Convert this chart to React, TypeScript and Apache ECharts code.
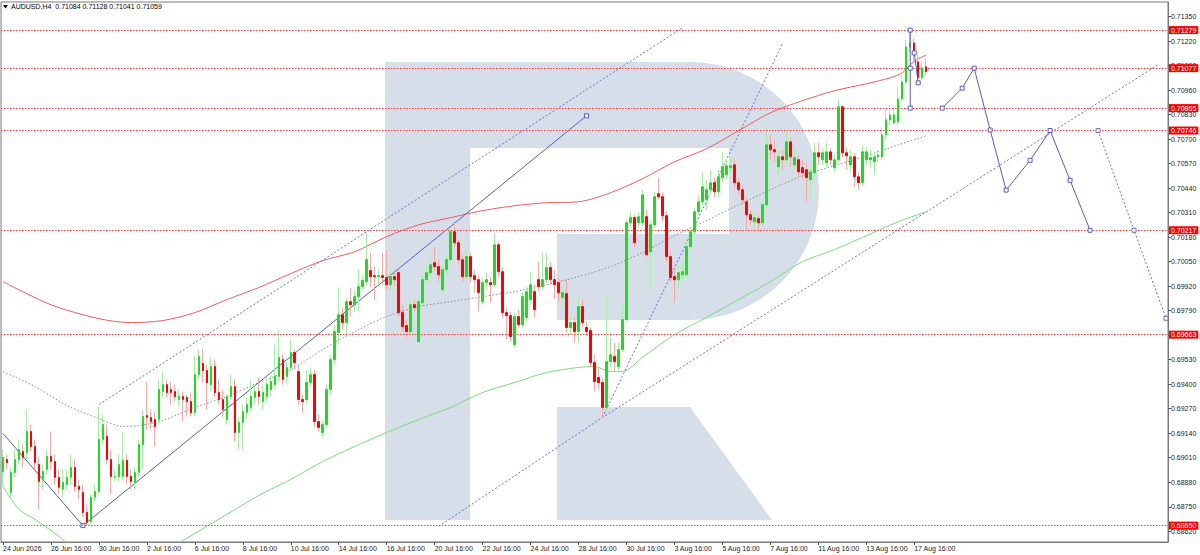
import React, { useEffect, useRef } from 'react';
import * as echarts from 'echarts';

// ---------- DATA ----------
const SYMBOL = 'AUDUSD,H4';
const LAST_OHLC = [0.71084, 0.71128, 0.71041, 0.71059];

// H4 candles, [open, high, low, close] in points (price x 1e5)
const candles: number[][] = [
  [68937,69054,68858,69012],[69001,69027,68948,68985],[68826,68959,68805,68932],[68932,69054,68906,69001],
  [69001,69107,68974,69054],[69043,69080,68959,69012],[69038,69266,69001,69149],[69149,69186,69043,69070],
  [69070,69107,68948,68985],[68974,69012,68736,68884],[68895,68974,68842,68937],[68948,69054,68921,69017],
  [69017,69149,68948,68990],[68990,69027,68868,68906],[68906,68948,68815,68853],[68842,68948,68800,68879],
  [68868,68948,68842,68906],[68906,69027,68868,68959],[68959,69001,68831,68858],[68858,68895,68789,68842],
  [68826,68868,68694,68720],[68720,68763,68650,68667],[68672,68815,68651,68800],[68800,68868,68778,68831],
  [68831,69282,68815,69107],[69107,69239,69080,69186],[69123,69186,68974,69001],[69001,69054,68815,68911],
  [68906,68948,68884,68911],[68911,69027,68884,68974],[68911,69144,68895,68996],[68996,69027,68868,68911],
  [68911,68948,68842,68884],[68879,68959,68842,68932],[68932,69107,68906,69080],[69080,69266,68948,69229],
  [69234,69414,69160,69224],[69224,69266,69160,69202],[69213,69255,69070,69176],[69213,69425,69186,69372],
  [69361,69467,69330,69398],[69398,69425,69330,69356],[69372,69414,69292,69356],[69361,69398,69308,69335],
  [69319,69372,69282,69335],[69335,69361,69202,69319],[69330,69345,69229,69308],[69308,69356,69229,69250],
  [69250,69552,69229,69451],[69451,69584,69425,69547],[69510,69589,69409,69473],[69473,69504,69266,69409],
  [69398,69542,69361,69494],[69494,69531,69330,69356],[69356,69425,69292,69319],[69319,69372,69224,69266],
  [69213,69345,69186,69335],[69335,69451,69319,69388],[69388,69425,69096,69144],[69144,69224,69054,69197],
  [69197,69292,69054,69255],[69250,69330,69213,69292],[69277,69425,69255,69335],[69330,69398,69292,69361],
  [69361,69436,69292,69335],[69308,69398,69266,69356],[69335,69436,69308,69398],[69372,69451,69335,69414],
  [69398,69610,69372,69441],[69441,69690,69409,69542],[69531,69557,69398,69425],[69441,69520,69398,69489],
  [69489,69637,69467,69568],[69568,69584,69478,69515],[69467,69504,69292,69319],[69319,69345,69250,69308],
  [69319,69478,69292,69409],[69409,69489,69388,69451],[69451,69478,69171,69202],[69202,69239,69149,69171],
  [69144,69213,69123,69186],[69186,69398,69171,69372],[69372,69557,69345,69531],[69531,69716,69504,69679],
  [69674,69913,69610,69769],[69769,69807,69690,69727],[69727,69860,69663,69838],[69838,69913,69759,69822],
  [69822,69902,69785,69865],[69865,70008,69785,69918],[69918,69981,69902,69950],[69944,70204,69928,70061],
  [70003,70098,69918,69971],[69976,70024,69847,69971],[69971,70019,69928,69976],[69976,70098,69928,69966],
  [69966,70112,69902,69928],[69928,70008,69902,69971],[69971,69992,69918,69955],[69992,70008,69759,69780],
  [69780,69822,69674,69706],[69711,69743,69648,69679],[69679,69847,69663,69822],[69822,69847,69780,69807],
  [69626,69860,69621,69838],[69833,69981,69822,69955],[69955,70034,69939,69992],[69992,70061,69971,70034],
  [70045,70130,69997,70024],[70024,70061,69944,69981],[69902,70034,69876,70008],[70008,70087,69981,70061],
  [70061,70230,70045,70209],[70209,70257,70130,70151],[70151,70167,70034,70061],[70061,70087,69944,69971],
  [69971,70112,69955,70077],[70077,70098,69939,69971],[69976,70008,69886,69955],[69955,69981,69785,69886],
  [69838,69966,69822,69939],[69939,69992,69902,69955],[69939,69971,69833,69928],[69928,70204,69913,70140],
  [70140,70156,69966,69997],[69997,70019,69754,69780],[69780,69807,69637,69764],[69764,69785,69626,69653],
  [69610,69780,69595,69759],[69759,69796,69701,69716],[69716,69886,69701,69865],[69754,69918,69733,69891],
  [69849,69997,69822,69928],[69891,69928,69754,69796],[69955,70050,69891,69918],[69918,70098,69902,69955],
  [69955,70098,69939,70019],[70019,70050,69928,69955],[69955,70008,69849,69928],[69939,69966,69838,69886],
  [69860,69928,69807,69886],[69881,69955,69674,69701],[69701,69754,69663,69727],[69727,69754,69621,69679],
  [69679,69860,69621,69812],[69812,69849,69701,69727],[69701,69733,69658,69679],[69685,69701,69489,69515],
  [69515,69557,69361,69414],[69436,69489,69372,69409],[69409,69436,69224,69277],[69277,69870,69255,69520],
  [69520,69648,69489,69557],[69547,69621,69467,69520],[69494,69621,69467,69584],[69584,69833,69573,69743],
  [69743,70273,69733,70257],[70257,70315,70230,70284],[70284,70299,70125,70151],[70257,70315,70230,70289],
  [70257,70432,70241,70405],[70289,70326,70077,70087],[70103,70273,69902,70246],[70246,70421,70230,70395],
  [70411,70496,70379,70395],[70395,70421,70262,70294],[70294,70315,70050,70077],[70077,70103,69944,69966],
  [69971,70008,69833,69955],[69955,70034,69902,69992],[69981,70050,69955,69997],[69981,70156,69966,70130],
  [70130,70230,70114,70209],[70209,70336,70193,70315],[70315,70405,70299,70368],[70368,70522,70352,70448],
  [70379,70485,70326,70432],[70432,70538,70405,70469],[70469,70496,70390,70421],[70421,70538,70390,70501],
  [70496,70633,70475,70554],[70511,70591,70485,70559],[70549,70602,70527,70559],[70564,70602,70443,70469],
  [70469,70496,70405,70432],[70432,70458,70352,70379],[70368,70390,70220,70299],[70299,70326,70246,70273],
  [70262,70315,70230,70284],[70279,70299,70209,70257],[70257,70379,70241,70352],[70352,70766,70336,70670],
  [70670,70723,70591,70644],[70644,70697,70580,70633],[70554,70644,70511,70607],[70607,70644,70538,70591],
  [70591,70750,70564,70686],[70686,70708,70554,70607],[70564,70644,70538,70602],[70591,70617,70496,70527],
  [70549,70591,70485,70522],[70538,70575,70368,70496],[70485,70564,70395,70527],[70522,70681,70501,70628],
  [70628,70681,70564,70607],[70591,70654,70564,70628],[70575,70681,70549,70633],[70633,70654,70564,70591],
  [70549,70617,70527,70591],[70591,70909,70575,70872],[70872,70882,70602,70628],[70628,70654,70538,70612],
  [70564,70644,70527,70607],[70607,70628,70448,70501],[70501,70527,70432,70469],[70469,70670,70453,70633],
  [70591,70660,70564,70633],[70591,70644,70549,70602],[70580,70633,70511,70607],[70607,70644,70580,70617],
  [70607,70761,70591,70723],[70723,70856,70697,70803],[70803,70882,70776,70829],[70787,70866,70776,70829],
  [70792,70978,70776,70914],[70914,71041,70899,71004],[71004,71226,70988,71190],[71190,71279,71163,71211],
  [71211,71237,71110,71158],[71110,71147,70988,71026],[71026,71110,71014,71079],[71084,71128,71041,71059],
];

const FUTURE_BARS = 60;
const X_TICK_STEP = 12;
const xTickLabels = [
  '24 Jun 2026', '26 Jun 16:00', '30 Jun 16:00', '2 Jul 16:00', '6 Jul 16:00', '8 Jul 16:00',
  '10 Jul 16:00', '14 Jul 16:00', '16 Jul 16:00', '20 Jul 16:00', '22 Jul 16:00', '24 Jul 16:00',
  '28 Jul 16:00', '30 Jul 16:00', '3 Aug 16:00', '5 Aug 16:00', '7 Aug 16:00', '11 Aug 16:00',
  '13 Aug 16:00', '17 Aug 16:00',
];
const yTicks = [
  0.6862, 0.6875, 0.6888, 0.6901, 0.6914, 0.6927, 0.694, 0.6953, 0.6966, 0.6979, 0.6992,
  0.7005, 0.7018, 0.7031, 0.7044, 0.7057, 0.707, 0.7083, 0.7096, 0.7109, 0.7122, 0.7135,
];
const levels = [0.71279, 0.71077, 0.70865, 0.70746, 0.70217, 0.69663, 0.6865];

// moving averages, [bar, points]
const maRed = [[0,69944],[12,69822],[24,69748],[32,69727],[40,69738],[48,69780],[56,69849],[64,69913],[72,69987],[80,70056],[88,70103],[96,70183],[104,70246],[112,70284],[120,70321],[128,70347],[136,70363],[144,70368],[152,70416],[160,70490],[168,70580],[176,70649],[184,70745],[192,70840],[200,70904],[208,70957],[216,70994],[222,71026],[225,71052],[227,71095],[229,71126],[231,71147]];
const maGrey = [[0,69467],[8,69388],[16,69287],[24,69218],[30,69176],[34,69181],[40,69208],[48,69277],[56,69335],[64,69409],[72,69478],[80,69584],[88,69679],[96,69759],[104,69812],[112,69838],[120,69865],[128,69891],[136,69928],[144,69971],[152,70024],[160,70098],[168,70188],[176,70268],[184,70352],[192,70432],[200,70506],[208,70559],[216,70612],[224,70670],[231,70718]];
const maGreen = [[0,68858],[4,68736],[8,68683],[14,68593],[24,68418],[32,68392],[40,68508],[48,68608],[56,68709],[64,68810],[72,68895],[80,68990],[88,69070],[96,69144],[104,69213],[112,69277],[120,69356],[128,69409],[136,69462],[144,69489],[148,69494],[152,69467],[155,69467],[160,69542],[168,69663],[176,69754],[184,69849],[192,69944],[200,70050],[208,70114],[216,70188],[224,70262],[231,70315]];

// drawn analysis lines, [bar, points]
const channelDown = [[0,69139],[20,68650]];
const channelUp = [[20,68650],[146,70824]];
const upperDotted = [[24,69292],[170,71291]];
const lowerDotted = [[109,68646],[150,69224],[289,71095]];
const steepDotted = [[150,69224],[195,71206]];
const forecast = [[235,70865],[240,70971],[243,71077],[247,70749],[251,70430],[257,70588],[262,70746],[267,70482],[272,70217]];
const forecastDotted = [[274,70746],[283,70217],[291,69750]];
const peakMarks = [[227,71279],[227,71077],[227,70865]];
const peakSmall = [[228,71158],[229,70999]];

// ---------- CHART ----------
const FONT = 'Liberation Sans, Arial, sans-serif';
const P = (v: number) => v / 1e5;
const BLUE = '#5a5ac6';
const BLUE_DOT = '#6d6dd0';

function lineSeries(data: number[][], color: string, dash: number[] | null, marks: boolean, smooth: number | boolean = false, z = 3) {
  return {
    type: 'line',
    data: data.map(([b, v]) => [b, P(v)]),
    showSymbol: marks,
    showAllSymbol: true,
    symbol: 'rect',
    symbolSize: 4,
    itemStyle: { color: '#ffffff', borderColor: color, borderWidth: 1 },
    lineStyle: { color, width: 1, type: dash ? dash : 'solid' },
    smooth,
    silent: true,
    z,
    animation: false,
  };
}

function levelSeries(values: number[], bg: string, lineColor: string | null, z: number) {
  return {
    type: 'line',
    data: [],
    silent: true,
    z,
    animation: false,
    markLine: {
      silent: true,
      symbol: ['none', 'none'],
      precision: 5,
      animation: false,
      lineStyle: lineColor ? { color: lineColor, width: 1, type: [1.5, 1.5] } : { opacity: 0, width: 0 },
      label: {
        position: 'end', distance: 1,
        formatter: (p: any) => Number(p.value).toFixed(5),
        backgroundColor: bg, color: '#ffffff', fontSize: 7, padding: [1, 2, 0, 2], fontFamily: FONT,
      },
      emphasis: { disabled: true },
      data: values.map((v) => ({ yAxis: v })),
    },
  };
}

export default function App() {
  const ref = useRef<HTMLDivElement>(null);
  useEffect(() => {
    const el = ref.current;
    if (!el) return;
    const chart = echarts.init(el, undefined, { renderer: 'svg' });
    const totalBars = candles.length + FUTURE_BARS;
    const categories = Array.from({ length: totalBars }, (_, i) => String(i));
    const lastLabelBar = (xTickLabels.length - 1) * X_TICK_STEP;
    const showTick = (i: number) => i % X_TICK_STEP === 0 && i <= lastLabelBar;

    const wickData = candles.map(([o, h, l, c]) => [P(o), P(c), P(l), P(h)]);
    const bodyData = candles.map(([o, , , c]) => [P(o), P(c), P(Math.min(o, c)), P(Math.max(o, c))]);

    const LOGO = '#d6dee9';
    const option: any = {
      animation: false,
      backgroundColor: '#ffffff',
      textStyle: { fontFamily: FONT },
      grid: { left: 0, right: 32, top: 2, bottom: 13, show: true, borderColor: '#7a7a7a', borderWidth: 1, backgroundColor: 'transparent' },
      xAxis: {
        type: 'category',
        data: categories,
        boundaryGap: true,
        axisLine: { show: true, lineStyle: { color: '#7a7a7a' } },
        axisTick: { show: true, alignWithLabel: true, interval: (i: number) => showTick(i), length: 3, lineStyle: { color: '#555' } },
        axisLabel: {
          interval: (i: number) => showTick(i),
          formatter: (_v: string, i: number) => (showTick(i) ? xTickLabels[i / X_TICK_STEP] : ''),
          align: 'left', fontSize: 7, color: '#222', margin: 3, fontFamily: FONT,
        },
        splitLine: { show: false },
      },
      yAxis: {
        type: 'value',
        position: 'right',
        min: 0.68563,
        max: 0.71428,
        axisLine: { show: true, lineStyle: { color: '#7a7a7a' } },
        axisTick: { show: true, customValues: yTicks, length: 3, lineStyle: { color: '#555' } },
        axisLabel: { customValues: yTicks, formatter: (v: number) => v.toFixed(5), fontSize: 7, color: '#222', margin: 3, fontFamily: FONT },
        splitLine: { show: false },
      },
      graphic: [
        { type: 'rect', silent: true, z: 1, shape: { x: 385, y: 62, width: 85, height: 458 }, style: { fill: LOGO } },
        { type: 'rect', silent: true, z: 1, shape: { x: 385, y: 62, width: 306, height: 86 }, style: { fill: LOGO } },
        { type: 'sector', silent: true, z: 1, shape: { cx: 690, cy: 191, r: 129, r0: 0, startAngle: -Math.PI / 2, endAngle: Math.PI / 2, clockwise: true }, style: { fill: LOGO } },
        { type: 'rect', silent: true, z: 1, shape: { x: 557, y: 234, width: 134, height: 86 }, style: { fill: LOGO } },
        { type: 'rect', silent: true, z: 1, shape: { x: 689, y: 148, width: 40, height: 86 }, style: { fill: '#ffffff' } },
        { type: 'polygon', silent: true, z: 1, shape: { points: [[557, 407], [690, 407], [772, 520], [557, 520]] }, style: { fill: LOGO } },
        { type: 'polygon', silent: true, z: 10, shape: { points: [[3, 5], [8, 5], [5.5, 8.5]] }, style: { fill: '#000' } },
        {
          type: 'text', silent: true, z: 10, x: 11, y: 3,
          style: { text: `${SYMBOL}  ${LAST_OHLC.map((v) => v.toFixed(5)).join(' ')}`, fontSize: 7, fill: '#000', fontFamily: FONT },
        },
      ],
      series: [
        levelSeries([LAST_OHLC[3]], '#000000', null, 2),
        levelSeries(levels, '#ff0000', '#ff3b3b', 3),
        {
          type: 'candlestick',
          data: wickData,
          barWidth: 1,
          itemStyle: { color: '#a6eea6', color0: '#f6a9a9', borderColor: '#a6eea6', borderColor0: '#f6a9a9', borderWidth: 1 },
          silent: true,
          z: 4,
        },
        {
          type: 'candlestick',
          data: bodyData,
          barWidth: 2,
          itemStyle: { color: '#1fdc1f', color0: '#ff0000', borderColor: '#1fdc1f', borderColor0: '#ff0000', borderWidth: 1 },
          silent: true,
          z: 5,
        },
        lineSeries(maRed, '#f25c5c', null, false, 0.3, 3),
        lineSeries(maGrey, '#8c8c8c', [1.5, 2], false, 0.3, 3),
        lineSeries(maGreen, '#78dc78', null, false, 0.3, 3),
        lineSeries(channelDown, BLUE, null, false),
        lineSeries(channelUp, BLUE, null, true),
        lineSeries(upperDotted, BLUE_DOT, [2, 2], false),
        lineSeries(lowerDotted, BLUE_DOT, [2, 2], false),
        lineSeries(steepDotted, BLUE_DOT, [2, 2], false),
        lineSeries(forecast, BLUE, null, true, false, 6),
        lineSeries(forecastDotted, BLUE_DOT, [2, 2], true, false, 6),
        lineSeries(peakMarks, BLUE, null, true, false, 6),
        lineSeries(peakSmall, BLUE, null, true, false, 6),
      ],
    };
    chart.setOption(option);
    return () => chart.dispose();
  }, []);
  return <div ref={ref} style={{ position: 'fixed', left: 0, top: 0, width: 1200, height: 555, background: '#fff' }} />;
}
